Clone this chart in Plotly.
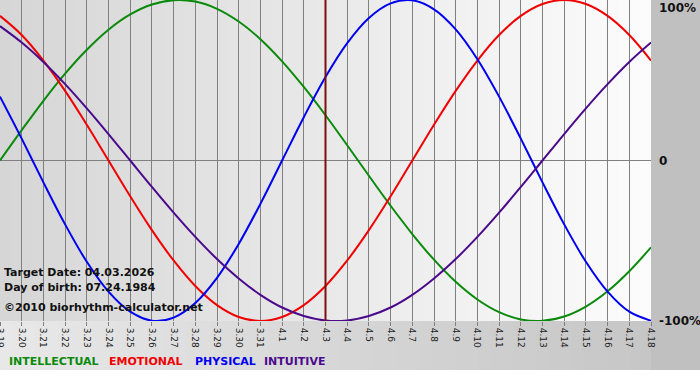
import plotly.graph_objects as go

# ---- data ----
dates = ["3.19", "3.20", "3.21", "3.22", "3.23", "3.24", "3.25", "3.26", "3.27", "3.28",
         "3.29", "3.30", "3.31", "4.1", "4.2", "4.3", "4.4", "4.5", "4.6", "4.7",
         "4.8", "4.9", "4.10", "4.11", "4.12", "4.13", "4.14", "4.15", "4.16", "4.17", "4.18"]

intellectual = [0.0, 0.189, 0.372, 0.541, 0.690, 0.815, 0.910, 0.972, 0.999, 0.990,
                0.945, 0.866, 0.756, 0.618, 0.458, 0.282, 0.095, -0.095, -0.282, -0.458,
                -0.618, -0.756, -0.866, -0.945, -0.990, -0.999, -0.972, -0.910, -0.815, -0.690, -0.541]

emotional = [0.901, 0.782, 0.623, 0.434, 0.223, 0.0, -0.223, -0.434, -0.623, -0.782,
             -0.901, -0.975, -1.0, -0.975, -0.901, -0.782, -0.623, -0.434, -0.223, 0.0,
             0.223, 0.434, 0.623, 0.782, 0.901, 0.975, 1.0, 0.975, 0.901, 0.782, 0.623]

physical = [0.398, 0.136, -0.136, -0.398, -0.631, -0.817, -0.942, -0.998, -0.979, -0.888,
            -0.731, -0.520, -0.270, 0.0, 0.270, 0.520, 0.731, 0.888, 0.979, 0.998,
            0.942, 0.817, 0.631, 0.398, 0.136, -0.136, -0.398, -0.631, -0.817, -0.942, -0.998]

intuitive = [0.837, 0.735, 0.614, 0.476, 0.325, 0.165, 0.0, -0.165, -0.325, -0.476,
             -0.614, -0.735, -0.837, -0.916, -0.969, -0.997, -0.997, -0.969, -0.916, -0.837,
             -0.735, -0.614, -0.476, -0.325, -0.165, 0.0, 0.165, 0.325, 0.476, 0.614, 0.735]

target_date = "4.3"
series_names = ["INTELLECTUAL", "EMOTIONAL", "PHYSICAL", "INTUITIVE"]
y_labels = ["100%", "0", "-100%"]
y_label_values = [1, 0, -1]
info_lines = ["Target Date: 04.03.2026", "Day of birth: 07.24.1984", "\u00a92010 biorhythm-calculator.net"]

# ---- styling ----
W, H = 700, 380
PW, PH = 651, 321          # plot area in pixels (starts at 0,0)
colors = ["#0a8a0a", "#f00000", "#0000f0", "#4b0a8c"]
FONT = "DejaVu Sans"

def px(x):
    return x / PW

def py(y):
    return 1 - y / PH

xidx = list(range(len(dates)))
fig = go.Figure()
for vals, name, col in zip([intellectual, emotional, physical, intuitive], series_names, colors):
    fig.add_trace(go.Scatter(x=xidx, y=vals, mode="lines", name=name,
                             line=dict(color=col, width=2, shape="spline", smoothing=1.0),
                             hoverinfo="skip"))

shapes = []
def lerp(a, b, t):
    return int(round(a + (b - a) * t))

# plot area gradient (grey -> near white)
N = 60
for i in range(N):
    t = i / (N - 1)
    g = lerp(214, 252, t)
    shapes.append(dict(type="rect", xref="paper", yref="paper",
                       x0=px(PW * i / N), x1=px(PW * (i + 1) / N) + 0.002, y0=0, y1=1,
                       fillcolor=f"rgb({g},{g},{g})", line=dict(width=0), layer="below"))
# bottom band gradient (light -> darker)
for i in range(N):
    t = i / (N - 1)
    g = lerp(232, 196, t)
    shapes.append(dict(type="rect", xref="paper", yref="paper",
                       x0=px(W * i / N), x1=px(W * (i + 1) / N) + 0.002,
                       y0=py(370), y1=py(PH),
                       fillcolor=f"rgb({g},{g},{g})", line=dict(width=0), layer="below"))
# right column
shapes.append(dict(type="rect", xref="paper", yref="paper", x0=1, x1=px(W),
                   y0=py(370), y1=1, fillcolor="#c0c0c0", line=dict(width=0), layer="below"))
# target date line
tx = dates.index(target_date)
shapes.append(dict(type="line", xref="x", yref="paper", x0=tx, x1=tx, y0=0, y1=1,
                   line=dict(color="#7a1010", width=2), layer="above"))

annotations = []
for lab, v in zip(y_labels, y_label_values):
    ypix = PH / 2 - v * PH / 2
    ypix = min(max(ypix, 8), PH)
    annotations.append(dict(text=f"<b>{lab}</b>", xref="paper", yref="paper",
                            x=px(657), y=py(ypix), xanchor="left", yanchor="middle",
                            showarrow=False, font=dict(family=FONT, size=12, color="#111111")))
for line_text, ypix in zip(info_lines, [272, 287, 307]):
    annotations.append(dict(text=f"<b>{line_text}</b>", xref="paper", yref="paper",
                            x=px(2), y=py(ypix), xanchor="left", yanchor="middle",
                            showarrow=False, font=dict(family=FONT, size=11, color="#111111")))
for name, col, xpix in zip(series_names, colors, [7, 107, 193, 262]):
    annotations.append(dict(text=f"<b>{name}</b>", xref="paper", yref="paper",
                            x=px(xpix), y=py(362), xanchor="left", yanchor="middle",
                            showarrow=False, font=dict(family=FONT, size=11, color=col)))

fig.update_layout(
    width=W, height=H,
    margin=dict(l=0, r=W - PW, t=0, b=H - PH, pad=0, autoexpand=False),
    paper_bgcolor="white", plot_bgcolor="rgba(0,0,0,0)",
    showlegend=False,
    shapes=shapes, annotations=annotations,
    xaxis=dict(range=[0, len(dates) - 1], tickmode="array", tickvals=xidx, ticktext=dates,
               tickangle=90, tickfont=dict(family=FONT, size=9, color="#222222"),
               ticklabeloverflow="allow", automargin=False,
               showgrid=True, gridcolor="#808080", gridwidth=1,
               ticks="outside", ticklen=4, tickcolor="#808080",
               zeroline=False, showline=False, fixedrange=True),
    yaxis=dict(range=[-1.0, 1.0], showgrid=False, zeroline=True, zerolinecolor="#808080",
               zerolinewidth=1, showticklabels=False, showline=False, fixedrange=True),
)

fig.write_html("out.html", config={"displayModeBar": False},
               post_script="document.body.style.margin='0';document.body.style.padding='0';"
                           "document.body.style.overflow='hidden';")
